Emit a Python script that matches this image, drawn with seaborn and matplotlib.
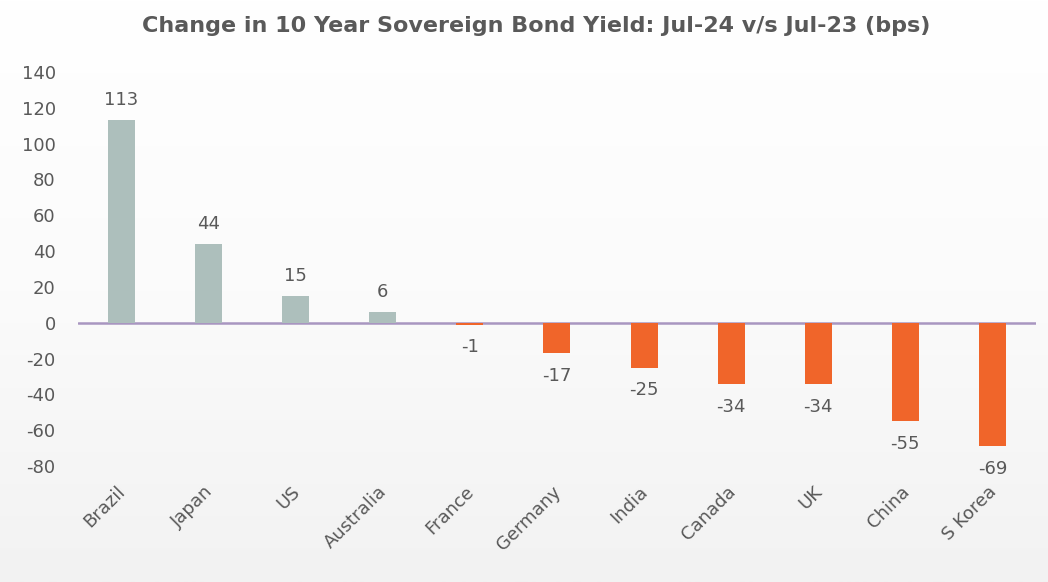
import numpy as np
import pandas as pd
import matplotlib
matplotlib.use("Agg")
import matplotlib.pyplot as plt
import matplotlib.transforms as mtransforms
import seaborn as sns

countries = ["Brazil", "Japan", "US", "Australia", "France", "Germany",
             "India", "Canada", "UK", "China", "S Korea"]
changes = [113, 44, 15, 6, -1, -17, -25, -34, -34, -55, -69]
yticks = [140, 120, 100, 80, 60, 40, 20, 0, -20, -40, -60, -80]

pos_color = "#adbfbc"
neg_color = "#f0652a"
text_color = "#595959"

sns.set_theme(style="white")
plt.rcParams["font.family"] = ["DejaVu Sans"]

df = pd.DataFrame({"country": countries, "change": changes})
palette = {c: (pos_color if v >= 0 else neg_color) for c, v in zip(countries, changes)}

fig = plt.figure(figsize=(10.48, 5.82), dpi=100)
# background gradient
bg = fig.add_axes([0, 0, 1, 1], zorder=-10)
grad = np.linspace(0, 1, 256).reshape(-1, 1)
bg.imshow(grad, aspect="auto", cmap=matplotlib.colors.LinearSegmentedColormap.from_list(
    "g", ["#ffffff", "#fbfbfb", "#f2f2f2"]), extent=[0, 1, 0, 1], origin="upper")
bg.axis("off")

ax = fig.add_axes([0.0744, 0.1993, 0.9141, 0.677])
ax.set_facecolor("none")
ax.axhline(0, color="#a896c0", lw=1.8, zorder=1)
sns.barplot(data=df, x="country", y="change", hue="country", palette=palette,
            legend=False, width=0.31, ax=ax, saturation=1, zorder=2, linewidth=0)

ax.set_xlim(-0.5, len(countries) - 0.5)
ax.set_ylim(-80, 140)
ax.set_yticks(yticks)
ax.set_yticklabels([str(t) for t in yticks], fontsize=13, color=text_color)
ax.tick_params(axis="y", length=0, pad=16)
ax.tick_params(axis="x", length=0, pad=12)
ax.set_xticks(range(len(countries)))
ax.set_xticklabels(countries, rotation=45, ha="right", rotation_mode="anchor",
                   fontsize=13, color=text_color)
shift = mtransforms.ScaledTranslation(-5 / 100, 0, fig.dpi_scale_trans)
for lbl in ax.get_xticklabels():
    lbl.set_transform(lbl.get_transform() + shift)
ax.set_xlabel("")
ax.set_ylabel("")
for s in ax.spines.values():
    s.set_visible(False)

for i, v in enumerate(changes):
    if v >= 0:
        ax.annotate(str(v), (i, v), xytext=(0, 8), textcoords="offset points",
                    ha="center", va="bottom", fontsize=13, color=text_color)
    else:
        ax.annotate(str(v), (i, v), xytext=(0, -10), textcoords="offset points",
                    ha="center", va="top", fontsize=13, color=text_color)

fig.text(0.512, 0.955, "Change in 10 Year Sovereign Bond Yield: Jul-24 v/s Jul-23 (bps)",
         ha="center", va="center", fontsize=16, fontweight="bold", color=text_color)

fig.savefig("out.png", dpi=100)
